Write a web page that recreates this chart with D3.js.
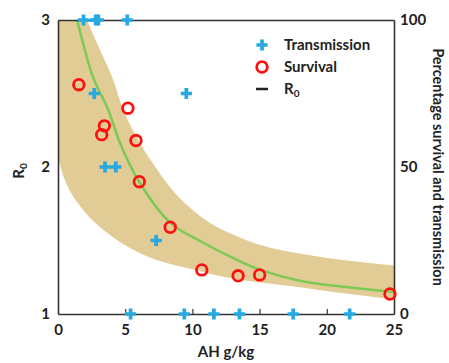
<!DOCTYPE html>
<html>
<head>
<meta charset="utf-8">
<script src="https://cdn.jsdelivr.net/npm/d3@7"></script>
<style>
  body { margin: 0; background: #fff; }
  svg { font-family: Lato, sans-serif; font-weight: 700; }
</style>
</head>
<body>
<svg width="449" height="363"></svg>
<script>
// transmission (% , right axis)
const transAH  = [1.9, 2.8, 3.0, 5.15, 2.7, 9.55, 3.5, 4.3, 7.3, 5.4, 9.4, 11.6, 13.5, 17.5, 21.7];
const transPct = [100, 100, 100, 100, 75, 75, 50, 50, 25, 0, 0, 0, 0, 0, 0];

// survival (% , right axis)
const survAH  = [1.55, 5.2, 3.45, 3.25, 5.8, 6.05, 8.35, 10.7, 13.4, 15.0, 24.7];
const survPct = [78, 70, 64, 61, 59, 45, 29.5, 15, 13, 13.3, 6.8];

// R0 fit curve (left axis)
const fitAH = [1.42, 1.87, 2.61, 3.73, 4.63, 5.97, 8.36, 10.6, 13.06, 15.07, 18.06, 21.8, 25];
const fitR0 = [3.0, 2.84, 2.61, 2.39, 2.16, 1.91, 1.62, 1.495, 1.38, 1.30, 1.225, 1.18, 1.15];

// confidence band edges
const upAH  = [2.16, 2.91, 4.03, 4.93, 6.12, 7.09, 8.73, 10.82, 12.31, 15.07, 18.06, 21.8, 25];
const upR0  = [3.0, 2.84, 2.61, 2.37, 2.16, 2.02, 1.82, 1.65, 1.57, 1.47, 1.41, 1.36, 1.33];
const lowAH = [0, 0.52, 1.27, 2.76, 4.78, 7.24, 10.2, 13.06, 17.3, 20.5, 25];
const lowR0 = [2.07, 1.91, 1.78, 1.62, 1.48, 1.37, 1.30, 1.24, 1.19, 1.15, 1.10];

const xTicks = [0, 5, 10, 15, 20, 25];
const yTicks = [1, 2, 3];
const pTicks = [0, 50, 100];

const margin = {top: 20, right: 55, bottom: 49, left: 58},
      width = 449 - margin.left - margin.right,
      height = 363 - margin.top - margin.bottom;

const svg = d3.select("svg")
  .append("g")
    .attr("transform", "translate(" + margin.left + "," + margin.top + ")");

const x = d3.scaleLinear().domain([0, 25]).range([0, width]);
const y = d3.scaleLinear().domain([1, 3]).range([height, 0]);
const yp = d3.scaleLinear().domain([0, 100]).range([height, 0]);

//------------BAND---------------------------------------------
const edge = d3.line()
  .x(d => x(d[0]))
  .y(d => y(d[1]))
  .curve(d3.curveCatmullRom);

const upper = upAH.map((d, i) => [d, upR0[i]]);
const lower = lowAH.map((d, i) => [d, lowR0[i]]).reverse();

svg.append("path")
  .attr("fill", "#e2cc96")
  .attr("d", edge(upper) + "L" + edge(lower).slice(1) + "L" + x(0) + "," + y(3) + "Z");

//------------FIT LINE----------------------------------------
svg.append("path")
  .datum(fitAH.map((d, i) => [d, fitR0[i]]))
  .attr("fill", "none")
  .attr("stroke", "#7dc955")
  .attr("stroke-width", 2.5)
  .attr("d", edge);

//------------AXES--------------------------------------------
const axisColor = "#333";
function styleAxis(g) {
  g.select(".domain").attr("stroke", axisColor).attr("stroke-width", 1.6);
  g.selectAll(".tick line").attr("stroke", axisColor).attr("stroke-width", 1.2);
  g.selectAll(".tick text").attr("fill", "#222")
    .style("font-family", "Lato, sans-serif").style("font-weight", 700).style("font-size", "15px");
}

svg.append("g")
  .attr("transform", "translate(0," + height + ")")
  .call(d3.axisBottom(x).tickValues(xTicks).tickSizeInner(-5).tickSizeOuter(0).tickPadding(10))
  .call(styleAxis)
  .call(g => g.selectAll(".tick line").filter(d => d === 0 || d === 25).remove());

svg.append("g")
  .call(d3.axisTop(x).tickValues([]).tickSizeOuter(0))
  .call(styleAxis);

svg.append("g")
  .call(d3.axisLeft(y).tickValues(yTicks).tickFormat(d3.format("d")).tickSizeInner(0).tickSizeOuter(0).tickPadding(8))
  .call(styleAxis);

svg.append("g")
  .attr("transform", "translate(" + width + ",0)")
  .call(d3.axisRight(yp).tickValues(pTicks).tickSizeInner(0).tickSizeOuter(0).tickPadding(6))
  .call(styleAxis);

//------------POINTS------------------------------------------
const cross = d3.symbol().type(d3.symbolCross).size(70);

svg.selectAll(".trans")
  .data(transAH.map((d, i) => [d, transPct[i]]))
  .enter().append("path")
  .attr("class", "trans")
  .attr("transform", d => "translate(" + x(d[0]) + "," + yp(d[1]) + ")")
  .attr("fill", "#27a8e0")
  .attr("d", cross);

svg.selectAll(".surv")
  .data(survAH.map((d, i) => [d, survPct[i]]))
  .enter().append("circle")
  .attr("class", "surv")
  .attr("cx", d => x(d[0]))
  .attr("cy", d => yp(d[1]))
  .attr("r", 5.3)
  .attr("fill", "none")
  .attr("stroke", "#ff1010")
  .attr("stroke-width", 2.8);

//------------LEGEND------------------------------------------
const legend = svg.append("g").attr("transform", "translate(204,25)");
legend.append("path").attr("fill", "#27a8e0").attr("d", cross);
legend.append("circle").attr("cx", 0).attr("cy", 22).attr("r", 5.3)
  .attr("fill", "none").attr("stroke", "#ff1010").attr("stroke-width", 2.8);
legend.append("line").attr("x1", -6).attr("x2", 6).attr("y1", 44).attr("y2", 44)
  .attr("stroke", "#222").attr("stroke-width", 2.5);

const lt = legend.append("g").attr("fill", "#222").style("font-size", "15px");
lt.append("text").attr("x", 22).attr("y", 5).text("Transmission");
lt.append("text").attr("x", 22).attr("y", 27).text("Survival");
const r0 = lt.append("text").attr("x", 22).attr("y", 49);
r0.append("tspan").text("R");
r0.append("tspan").attr("dy", 3).style("font-size", "10px").text("0");

//------------TITLES------------------------------------------
svg.append("text")
  .attr("x", width / 2)
  .attr("y", height + 43)
  .attr("text-anchor", "middle")
  .attr("fill", "#222")
  .style("font-size", "15px")
  .text("AH g/kg");

const yl = svg.append("text")
  .attr("transform", "translate(-34," + (height / 2 + 4) + ") rotate(-90)")
  .attr("text-anchor", "middle")
  .attr("fill", "#222")
  .style("font-size", "15px");
yl.append("tspan").text("R");
yl.append("tspan").attr("dy", 3).style("font-size", "10px").text("0");

svg.append("text")
  .attr("transform", "translate(" + (width + 39) + "," + (height / 2) + ") rotate(90)")
  .attr("text-anchor", "middle")
  .attr("fill", "#222")
  .style("font-size", "14.5px")
  .text("Percentage survival and transmission");
</script>
</body>
</html>
